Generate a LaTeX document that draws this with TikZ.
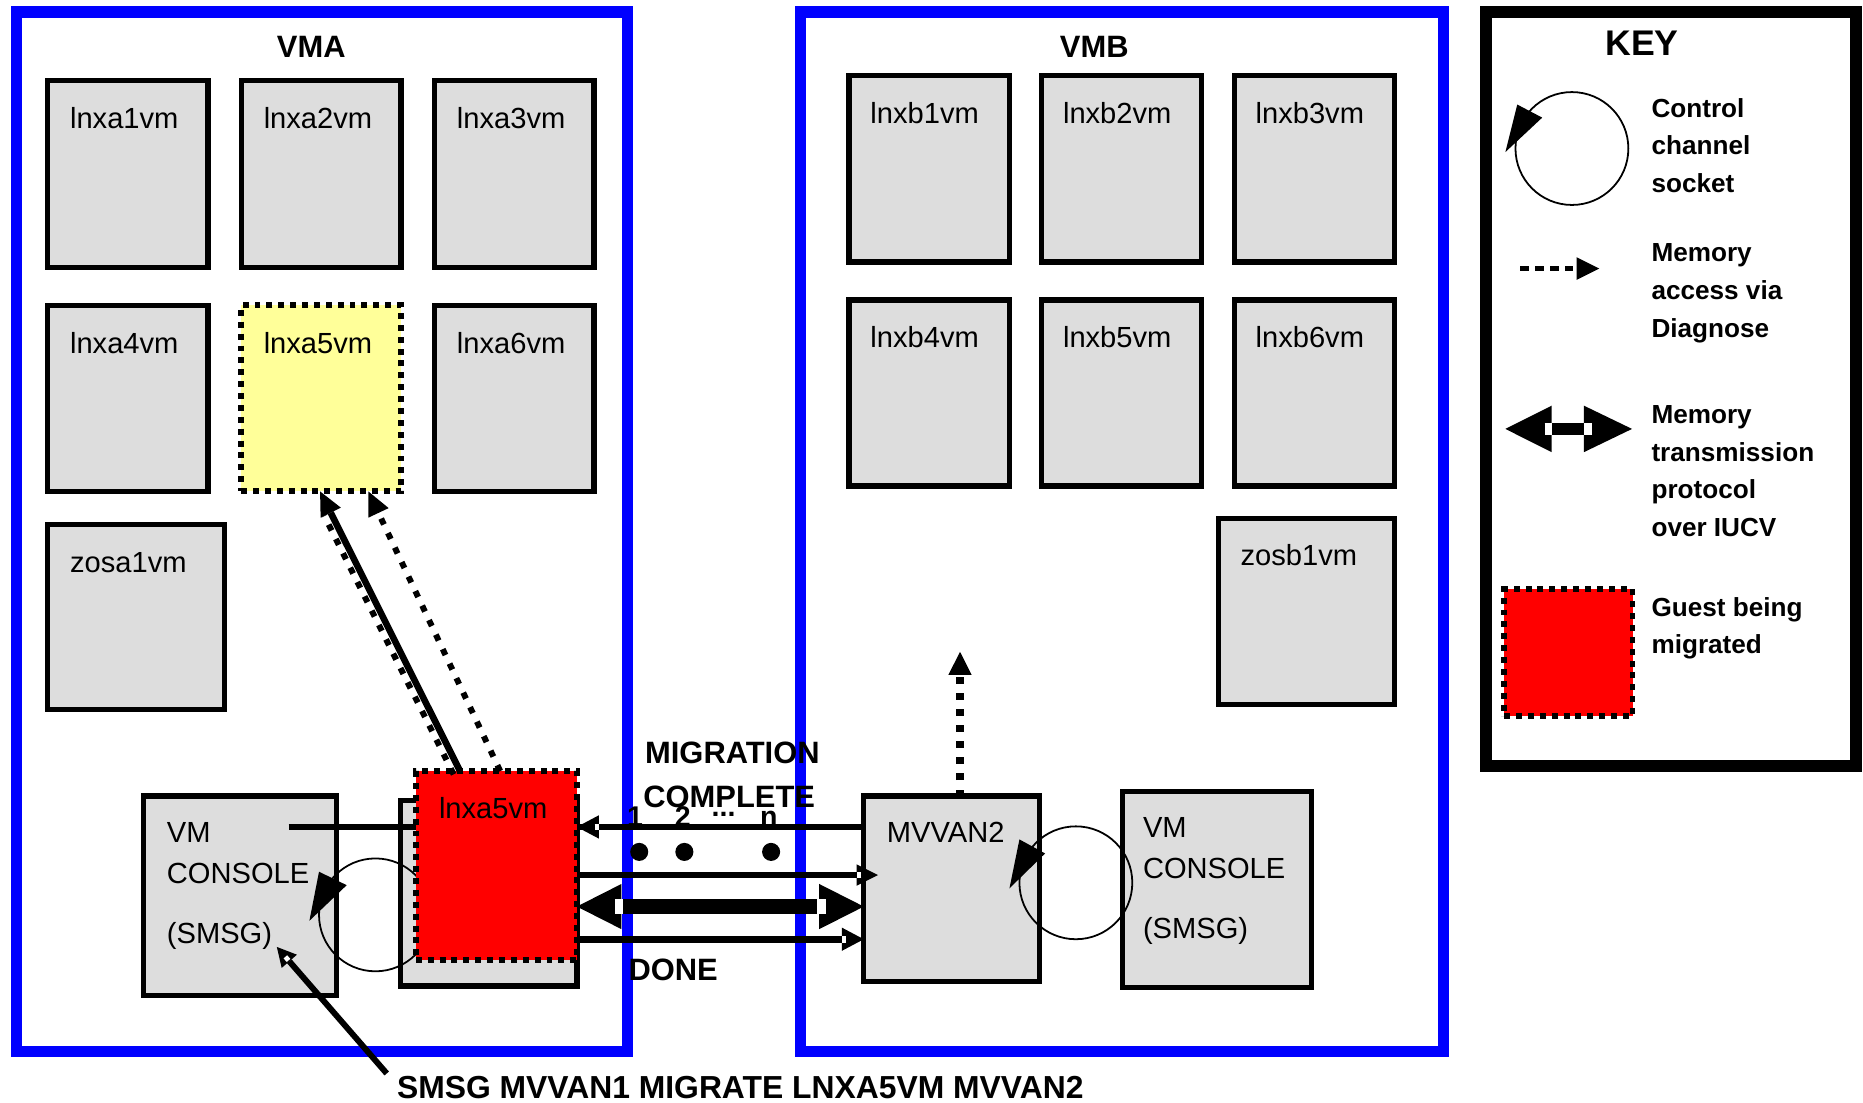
\documentclass[tikz,border=0pt]{standalone}
\usepackage{fontspec}
\setmainfont{Liberation Sans}
\usetikzlibrary{arrows.meta,calc}
\definecolor{boxgray}{HTML}{DDDDDD}
\definecolor{guestyellow}{HTML}{FFFF99}
\definecolor{vmblue}{HTML}{0000FF}
\definecolor{migred}{HTML}{FF0000}
\newcommand\fsz[1]{\fontsize{#1}{#1}\selectfont}
\newcommand\vmbox[6]{%
  \node[#6, minimum width={(#4-#2)*1pt}, minimum height={(#5-#3)*1pt}] (#1) at ({(#2+#4)/2},{(#3+#5)/2}) {};}
\newcommand\notch[5]{%
  \draw[white, line width=#5] ($(#1)!#3!(#2)$) -- ($(#1)!#4!(#2)$);}
\tikzset{
  vmframe/.style={draw=vmblue, line width=9.5pt, inner sep=0pt, outer sep=0pt},
  keyframe/.style={draw=black, line width=10pt, inner sep=0pt, outer sep=0pt},
  gbox/.style={draw=black, fill=boxgray, line width=4.5pt, inner sep=0pt, outer sep=0pt},
  ybox/.style={draw=black, fill=guestyellow, line width=5pt, dash pattern=on 5pt off 5pt, inner sep=0pt, outer sep=0pt},
  rbox/.style={draw=black, fill=migred, line width=5pt, dash pattern=on 5pt off 5pt, inner sep=0pt, outer sep=0pt},
  lbl/.style={font=\fsz{24.5}, inner sep=0pt, outer sep=0pt, anchor=base west},
  blbl/.style={font=\bfseries\fsz{26}, inner sep=0pt, outer sep=0pt, anchor=base west},
  numlbl/.style={font=\bfseries\fsz{24}, inner sep=0pt, outer sep=0pt, anchor=base},
  keytxt/.style={font=\bfseries\fsz{22}, inner sep=0pt, outer sep=0pt, anchor=base west},
  sock/.style={draw=black, line width=1.5pt, circle, minimum size=95pt, inner sep=0pt, outer sep=0pt},
  msg/.style={draw=black, line width=5.6pt},
  msgarrow/.style={msg, -{Triangle[length=18.5pt,width=19.6pt,line width=0pt]}},
  msgarrowb/.style={msg, -{Triangle[length=18pt,width=18pt,line width=0pt]}},
  bigarrow/.style={draw=black, line width=13pt, {Triangle[length=37.5pt,width=38pt,line width=0pt]}-{Triangle[length=37.5pt,width=38pt,line width=0pt]}},
  diagsolid/.style={draw=black, line width=5.5pt, -{Triangle[length=20pt,width=19pt,line width=0pt]}},
  diagdot/.style={draw=black, line width=5pt, dash pattern=on 5.5pt off 8pt},
  diagdotarrow/.style={diagdot, -{Triangle[length=20pt,width=19pt,line width=0pt]}},
  vdot/.style={draw=black, line width=6pt, dash pattern=on 5.5pt off 8pt, -{Triangle[length=19.4pt,width=19.6pt,line width=0pt]}},
  smsgarrow/.style={draw=black, line width=5pt, -{Triangle[length=16pt,width=17pt,line width=0pt]}},
  keydot/.style={draw=black, line width=4.5pt, dash pattern=on 7pt off 5.6pt, -{Triangle[length=19pt,width=19pt,line width=0pt]}},
  keybig/.style={draw=black, line width=10.5pt, {Triangle[length=39pt,width=39.2pt,line width=0pt]}-{Triangle[length=40.6pt,width=39.2pt,line width=0pt]}}
}
\begin{document}
\begin{tikzpicture}[x=1pt,y=-1pt]
\useasboundingbox (0,0) rectangle (1568,928);

% hosts and key frame
\vmbox{vma}{14}{10}{528}{885}{vmframe}
\vmbox{vmb}{674}{10}{1215}{885}{vmframe}
\vmbox{key}{1251}{10}{1562}{645}{keyframe}
\node[blbl, anchor=base] (vmalbl) at (262,48) {VMA};
\node[blbl, anchor=base] (vmblbl) at (921,48) {VMB};
\node[font=\bfseries\fsz{30}, inner sep=0pt, anchor=base] (keylbl) at (1382,47) {KEY};

% guests on VMA
\vmbox{a1}{40}{68}{175}{225}{gbox}
\node[lbl] (a1l) at ($(a1.north west)+(19,40.5)$) {lnxa1vm};
\vmbox{a2}{203}{68}{337.5}{225}{gbox}
\node[lbl] (a2l) at ($(a2.north west)+(19,40.5)$) {lnxa2vm};
\vmbox{a3}{365.6}{68}{500}{225}{gbox}
\node[lbl] (a3l) at ($(a3.north west)+(19,40.5)$) {lnxa3vm};
\vmbox{a4}{40}{257}{175}{413.6}{gbox}
\node[lbl] (a4l) at ($(a4.north west)+(19,40.5)$) {lnxa4vm};
\vmbox{a5}{203}{257}{337.8}{413.6}{ybox}
\node[lbl] (a5l) at ($(a5.north west)+(19,40.5)$) {lnxa5vm};
\vmbox{a6}{365.6}{257}{500}{413.6}{gbox}
\node[lbl] (a6l) at ($(a6.north west)+(19,40.5)$) {lnxa6vm};
\vmbox{za}{40}{441.5}{189}{597}{gbox}
\node[lbl] (zal) at ($(za.north west)+(19,40)$) {zosa1vm};

% guests on VMB
\vmbox{b1}{714.6}{63.5}{849.5}{220.5}{gbox}
\node[lbl] (b1l) at ($(b1.north west)+(18,40.2)$) {lnxb1vm};
\vmbox{b2}{876.7}{63.5}{1011.5}{220.5}{gbox}
\node[lbl] (b2l) at ($(b2.north west)+(18,40.2)$) {lnxb2vm};
\vmbox{b3}{1038.8}{63.5}{1173.7}{220.5}{gbox}
\node[lbl] (b3l) at ($(b3.north west)+(18,40.2)$) {lnxb3vm};
\vmbox{b4}{714.6}{252.5}{849.5}{409}{gbox}
\node[lbl] (b4l) at ($(b4.north west)+(18,40.2)$) {lnxb4vm};
\vmbox{b5}{876.7}{252.5}{1011.5}{409}{gbox}
\node[lbl] (b5l) at ($(b5.north west)+(18,40.2)$) {lnxb5vm};
\vmbox{b6}{1038.8}{252.5}{1173.7}{409}{gbox}
\node[lbl] (b6l) at ($(b6.north west)+(18,40.2)$) {lnxb6vm};
\vmbox{zb}{1025.7}{436.3}{1173.7}{592.8}{gbox}
\node[lbl] (zbl) at ($(zb.north west)+(18.5,40)$) {zosb1vm};

% lower service machines
\vmbox{conA}{121}{670}{283}{838}{gbox}
\node[lbl] (conA1) at (140.5,708.8) {VM};
\node[lbl] (conA2) at (140.5,743.8) {CONSOLE};
\node[lbl] (conA3) at (140.5,793.8) {(SMSG)};
\vmbox{lx5}{337}{674}{485.5}{830}{gbox}
\vmbox{mvvan}{727}{670}{875}{826}{gbox}
\node[lbl] (mvvanl) at (746.5,708.8) {MVVAN2};
\vmbox{conB}{945}{666}{1104}{831}{gbox}
\node[lbl] (conB1) at (962,704.8) {VM};
\node[lbl] (conB2) at (962,739.8) {CONSOLE};
\node[lbl] (conB3) at (962,789.8) {(SMSG)};

% control channel sockets
\node[sock] (sockA) at (316,770) {};
\fill (268.5,733.7) -- (291.8,745) -- (260.4,775) -- cycle;
\node[sock] (sockB) at (905.5,743) {};
\fill (858,706.5) -- (879.6,718.3) -- (849.6,747.7) -- cycle;

% message line from console
\coordinate (y1) at (0,696);
\coordinate (y2) at (0,736.5);
\coordinate (y3) at (0,763);
\coordinate (y4) at (0,790.5);
\coordinate (cslink) at (243,696);
\draw[msg] (cslink) -- (mvvan.west |- y1);

% guest being migrated
\vmbox{red}{350}{649}{485.5}{808}{rbox}
\node[lbl] (redl) at ($(red.north west)+(19.5,40)$) {lnxa5vm};

% memory access arrows to lnxa5vm
\coordinate (d1s) at ($(red.north west)+(37.2,0)$);
\coordinate (d2s) at ($(red.north west)+(71,0)$);
\coordinate (d1t) at ($(a5.south west)+(66.4,0)$);
\coordinate (d2t) at ($(a5.south west)+(107,0)$);
\draw[diagdot, shorten >=20pt, transform canvas={shift={(-5.4pt,-2.7pt)}}] (d1s) -- (d1t);
\draw[diagsolid] (d1s) -- (d1t);
\draw[diagdotarrow] (d2s) -- (d2t);

% texts in the middle
\node[blbl] (mig1) at (543,642.5) {MIGRATION};
\node[blbl] (mig2) at (541.5,680) {COMPLETE};
\node[numlbl] (n1) at (534.5,696) {1};
\node[numlbl] (n2) at (574.6,696) {2};
\node[numlbl] (n3) at (609,687) {...};
\node[numlbl] (nn) at (647,696) {n};
\node[blbl] (done) at (529,825.5) {DONE};
\fill (538,717) circle (7.6pt);
\fill (576,717) circle (7.6pt);
\fill (649,717) circle (7.6pt);

% IUCV messages and memory transmission
\coordinate (a1s) at (mvvan.west |- y1);
\coordinate (a1e) at (red.east |- y1);
\draw[msgarrow] (a1s) -- (a1e);
\notch{a1e}{a1s}{15pt}{18.6pt}{5.6pt}
\coordinate (a2s) at (red.east |- y2);
\coordinate (a2e) at ($(mvvan.west |- y2)+(12,0)$);
\draw[msgarrowb] (a2s) -- (a2e);
\notch{a2e}{a2s}{14pt}{18pt}{5.6pt}
\coordinate (a3s) at (red.east |- y3);
\coordinate (a3e) at (mvvan.west |- y3);
\draw[bigarrow] (a3s) -- (a3e);
\notch{a3s}{a3e}{32pt}{39pt}{13pt}
\notch{a3e}{a3s}{32pt}{39pt}{13pt}
\coordinate (a4s) at (red.east |- y4);
\coordinate (a4e) at (mvvan.west |- y4);
\draw[msgarrow] (a4s) -- (a4e);
\notch{a4e}{a4s}{15pt}{18.6pt}{5.6pt}

% memory access on VMB
\coordinate (vs) at ($(mvvan.north west)+(81,0)$);
\coordinate (vt) at (808,548.6);
\draw[vdot] (vs) -- (vt);

% command
\node[font=\bfseries\fsz{26.8}, inner sep=0pt, anchor=base west] (cmd) at (334,924.5) {SMSG MVVAN1 MIGRATE LNXA5VM MVVAN2};
\coordinate (sf) at (325.5,903.5);
\coordinate (st) at (233,797);
\draw[smsgarrow] (sf) -- (st);
\notch{st}{sf}{11pt}{15pt}{4pt}

% key
\node[sock] (ksock) at (1323,125) {};
\fill (1267,128) -- (1277,88) -- (1298,99) -- cycle;
\node[keytxt] (k1a) at (1390,98.5) {Control};
\node[keytxt] (k1b) at (1390,130.1) {channel};
\node[keytxt] (k1c) at (1390,161.7) {socket};
\coordinate (kd1) at (1279.5,226);
\coordinate (kd2) at (1346,226);
\draw[keydot] (kd1) -- (kd2);
\node[keytxt] (k2a) at (1390,220.5) {Memory};
\node[keytxt] (k2b) at (1390,252.1) {access via};
\node[keytxt] (k2c) at (1390,283.7) {Diagnose};
\coordinate (kb1) at (1267,361);
\coordinate (kb2) at (1373.6,361);
\draw[keybig] (kb1) -- (kb2);
\notch{kb1}{kb2}{33pt}{39pt}{10.5pt}
\notch{kb2}{kb1}{33.6pt}{40.6pt}{10.5pt}
\node[keytxt] (k3a) at (1390,356.5) {Memory};
\node[keytxt] (k3b) at (1390,388.1) {transmission};
\node[keytxt] (k3c) at (1390,419.7) {protocol};
\node[keytxt] (k3d) at (1390,451.3) {over IUCV};
\vmbox{kred}{1266}{496}{1374}{603}{rbox}
\node[keytxt] (k4a) at (1390,518.5) {Guest being};
\node[keytxt] (k4b) at (1390,550.1) {migrated};
\end{tikzpicture}
\end{document}
